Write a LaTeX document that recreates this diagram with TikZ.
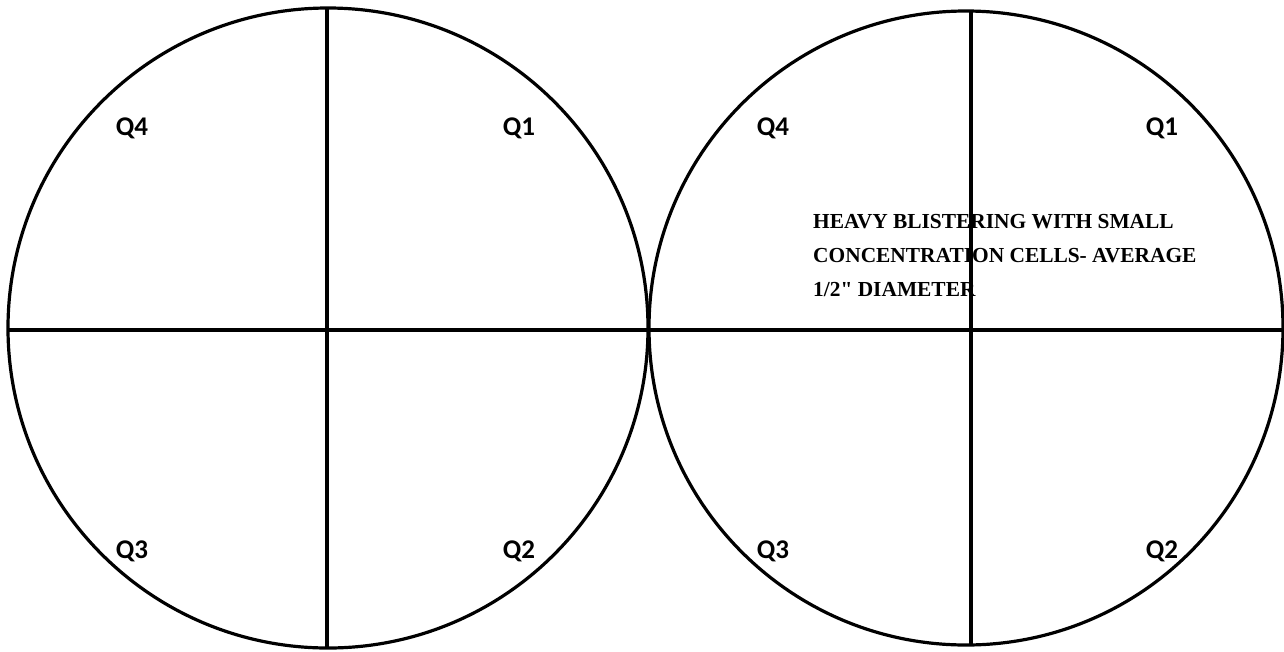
\documentclass[tikz,border=0pt]{standalone}
\usepackage{fontspec}
\setmainfont{Liberation Serif}
\newfontfamily\qfont{Carlito}
\begin{document}
\begin{tikzpicture}[x=1pt,y=-1pt,
  ring/.style={line width=3.2pt,black},
  axis/.style={line width=3.2pt,black},
  qlabel/.style={font=\qfont\bfseries\fontsize{27}{27}\selectfont,inner sep=0pt,anchor=center},
  note/.style={font=\bfseries\fontsize{21.4}{34}\selectfont,inner sep=0pt,anchor=base west}]
\useasboundingbox (0,0) rectangle (1284,651);
% circles
\draw[ring] (328,328) circle (320);
\draw[ring] (966,328) circle (317);
% horizontal axis
\coordinate (hl) at (8,330);
\coordinate (hr) at (1283,330);
\draw[axis] (hl) -- (hr);
% vertical axes
\coordinate (lt) at (327,8);
\coordinate (lb) at (327,648);
\coordinate (rt) at (971,11);
\coordinate (rb) at (971,645);
\draw[axis] (lt) -- (lb);
\draw[axis] (rt) -- (rb);
% quadrant labels
\node[qlabel] (lq4) at (132,128) {Q4};
\node[qlabel] (lq1) at (519,128) {Q1};
\node[qlabel] (lq3) at (132,551) {Q3};
\node[qlabel] (lq2) at (519,551) {Q2};
\node[qlabel] (rq4) at (773,128) {Q4};
\node[qlabel] (rq1) at (1162,128) {Q1};
\node[qlabel] (rq3) at (773,551) {Q3};
\node[qlabel] (rq2) at (1162,551) {Q2};
% annotation
\node[note] (n1) at (813,228) {HEAVY BLISTERING WITH SMALL};
\node[note] (n2) at (813,262) {CONCENTRATION CELLS- AVERAGE};
\node[note] (n3) at (813,296) {1/2\textquotedbl{} DIAMETER};
\end{tikzpicture}
\end{document}
